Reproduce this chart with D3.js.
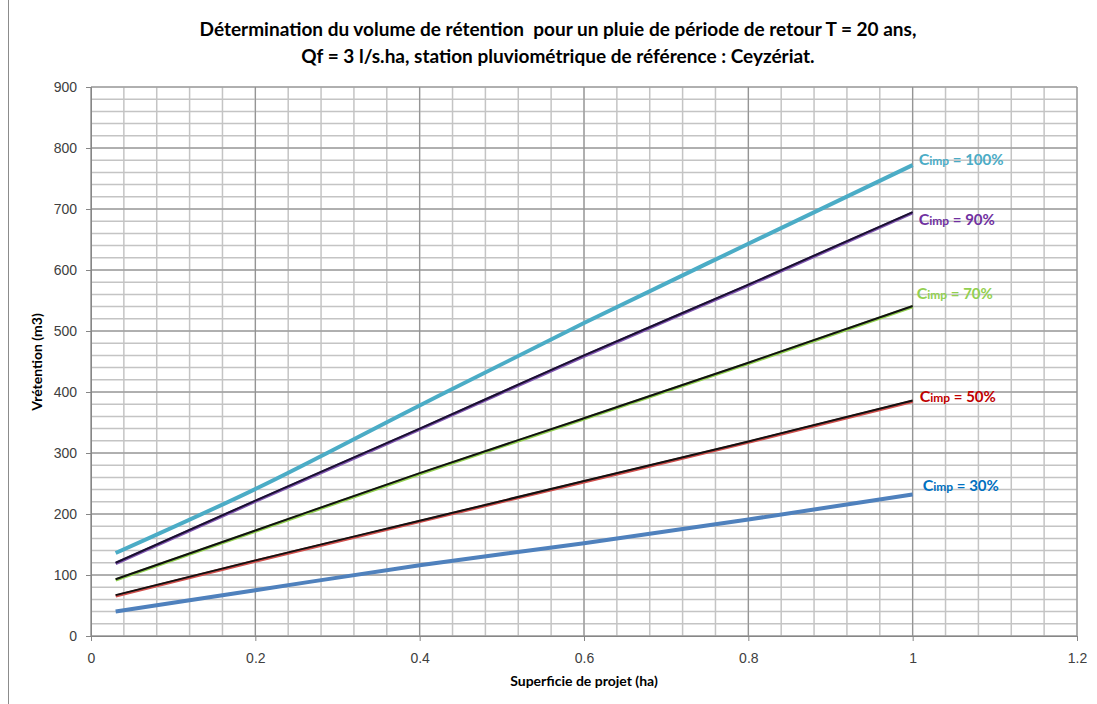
<!DOCTYPE html>
<html>
<head>
<meta charset="utf-8">
<script src="https://cdn.jsdelivr.net/npm/d3@7"></script>
<style>
  body { margin: 0; background: #fff; }
  svg { display: block; font-family: Lato, 'Open Sans', sans-serif; }
</style>
</head>
<body>
<div id="chart"></div>
<script>
// Données
const surfaces = [0.03, 0.2, 0.4, 0.6, 0.8, 1.0];
const v100 = [136, 241, 378, 513, 643, 772];
const v90 = [120, 222, 340, 460, 576, 695];
const v70 = [93, 173, 267, 357, 448, 541];
const v50 = [67, 124, 189, 254, 319, 386];
const v30 = [40, 75, 116, 152, 191, 232];
const seriesNames = ['100%', '90%', '70%', '50%', '30%'];
const xTicks = [0, 0.2, 0.4, 0.6, 0.8, 1, 1.2];
const yTicks = [0, 100, 200, 300, 400, 500, 600, 700, 800, 900];

const W = 1097, H = 704;
const margin = {top: 87, right: 20, bottom: 68, left: 91};

let svg = d3.select('#chart').append('svg')
    .attr('width', W)
    .attr('height', H);

// bordure de la zone de graphique
svg.append('line')
    .attr('x1', 8.5).attr('x2', 8.5)
    .attr('y1', 0).attr('y2', H)
    .attr('stroke', '#8c8c8c');

let x = d3.scaleLinear().domain([0, 1.2]).range([margin.left, W - margin.right]);
let y = d3.scaleLinear().domain([0, 900]).range([H - margin.bottom, margin.top]);

//Grille secondaire
let grid = svg.append('g');
grid.selectAll('.vminor')
    .data(d3.range(0, 31).map(i => i * 0.04))
    .enter().append('line')
    .attr('x1', d => x(d)).attr('x2', d => x(d))
    .attr('y1', y(0)).attr('y2', y(900))
    .attr('stroke', '#c4c4c4').attr('stroke-width', 1.5);
grid.selectAll('.hminor')
    .data(d3.range(0, 46).map(i => i * 20))
    .enter().append('line')
    .attr('x1', x(0)).attr('x2', x(1.2))
    .attr('y1', d => y(d)).attr('y2', d => y(d))
    .attr('stroke', '#c4c4c4').attr('stroke-width', 1.5);

//Grille principale
grid.selectAll('.vmajor')
    .data(xTicks)
    .enter().append('line')
    .attr('x1', d => x(d)).attr('x2', d => x(d))
    .attr('y1', y(0)).attr('y2', y(900))
    .attr('stroke', '#8c8c8c').attr('stroke-width', 1);
grid.selectAll('.hmajor')
    .data(yTicks)
    .enter().append('line')
    .attr('x1', x(0)).attr('x2', x(1.2))
    .attr('y1', d => y(d)).attr('y2', d => y(d))
    .attr('stroke', '#8c8c8c').attr('stroke-width', 1);

//Axes
let xAxis = function(g) {
    g.call(d3.axisBottom(x).tickValues(xTicks).tickSize(5).tickPadding(12).tickFormat(d => d3.format('')(+d.toFixed(1))));
    g.selectAll('.domain, .tick line').attr('stroke', '#868686');
    g.selectAll('.tick text').attr('fill', '#404040').style('font-size', '14px');
};
svg.append('g').attr('transform', 'translate(0,' + y(0) + ')').call(xAxis);

let yAxis = function(g) {
    g.call(d3.axisLeft(y).tickValues(yTicks).tickSize(5).tickPadding(9).tickFormat(d => d));
    g.selectAll('.domain, .tick line').attr('stroke', '#868686');
    g.selectAll('.tick text').attr('fill', '#404040').style('font-size', '14px');
};
svg.append('g').attr('transform', 'translate(' + x(0) + ',0)').call(yAxis);

//Titres
svg.append('text')
    .attr('x', 558).attr('y', 36)
    .attr('text-anchor', 'middle')
    .style('font-size', '19px').style('font-weight', 'bold').attr('fill', '#000')
    .style('white-space', 'pre')
    .text('Détermination du volume de rétention  pour un pluie de période de retour T = 20 ans,');
svg.append('text')
    .attr('x', 558).attr('y', 63)
    .attr('text-anchor', 'middle')
    .style('font-size', '19px').style('font-weight', 'bold').attr('fill', '#000')
    .text('Qf = 3 l/s.ha, station pluviométrique de référence : Ceyzériat.');

svg.append('text')
    .attr('transform', 'translate(42,' + 362 + ') rotate(-90)')
    .attr('text-anchor', 'middle')
    .style('font-size', '14px').style('font-weight', 'bold')
    .text('Vrétention (m3)');
svg.append('text')
    .attr('x', 584).attr('y', 686)
    .attr('text-anchor', 'middle')
    .style('font-size', '14px').style('font-weight', 'bold')
    .text('Superficie de projet (ha)');

//Courbes
let series = [
    {name: '100%', values: v100, color: '#4BACC6', core: null, width: 4, label: '#4BACC6', dx: 6, dy: 0},
    {name: '90%', values: v90, color: '#7F55B0', core: '#1a1030', width: 3, label: '#7030A0', dx: 6, dy: 13},
    {name: '70%', values: v70, color: '#92D050', core: '#111', width: 3, label: '#92D050', dx: 4, dy: -7},
    {name: '50%', values: v50, color: '#D0504D', core: '#111', width: 3, label: '#C00000', dx: 7, dy: 1},
    {name: '30%', values: v30, color: '#4F81BD', core: null, width: 4, label: '#0070C0', dx: 10, dy: -3}
];

let line = d3.line()
    .x(d => x(d[0]))
    .y(d => y(d[1]))
    .curve(d3.curveMonotoneX);

series.forEach(function(s) {
    let pts = surfaces.map((v, i) => [v, s.values[i]]);
    let g = svg.append('g');
    if (s.core) {
        g.append('path').datum(pts)
            .attr('d', line)
            .attr('transform', 'translate(0,0.8)')
            .attr('fill', 'none').attr('stroke', s.color).attr('stroke-width', 3.2);
        g.append('path').datum(pts)
            .attr('d', line)
            .attr('fill', 'none').attr('stroke', s.core).attr('stroke-width', 2);
    } else {
        g.append('path').datum(pts)
            .attr('d', line)
            .attr('fill', 'none').attr('stroke', s.color).attr('stroke-width', s.width);
    }
    let last = pts[pts.length - 1];
    let t = g.append('text')
        .attr('x', x(last[0]) + s.dx)
        .attr('y', y(last[1]) + s.dy)
        .attr('fill', s.label)
        .style('font-weight', 'bold');
    t.append('tspan').style('font-size', '16px').text('C');
    t.append('tspan').style('font-size', '12px').text('imp');
    t.append('tspan').style('font-size', '15px').text(' = ' + s.name);
});
</script>
</body>
</html>
